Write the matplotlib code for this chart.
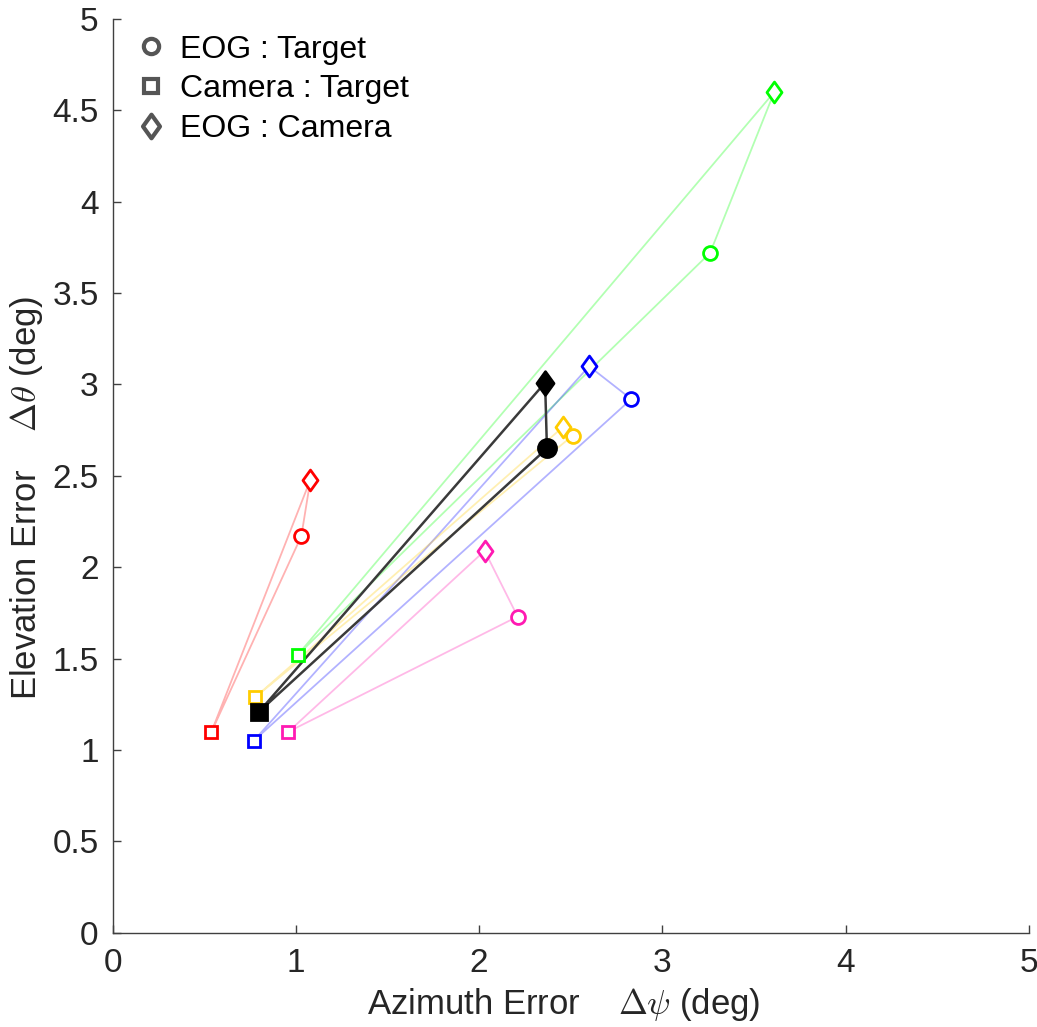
import matplotlib
matplotlib.use("Agg")
import matplotlib.pyplot as plt
from matplotlib.lines import Line2D
from matplotlib.path import Path

plt.rcParams["font.family"] = ["Liberation Sans", "DejaVu Sans"]
plt.rcParams["mathtext.fontset"] = "cm"

# per-subject colours, last entry is the group mean (filled black)
colors = ["#FF0000", "#00FF00", "#0000FF", "#FFCC00", "#FF1AB2", "#000000"]

# EOG : Target errors (azimuth, elevation)
eog_tgt_az = [1.03, 3.26, 2.83, 2.51, 2.21, 2.37]
eog_tgt_el = [2.17, 3.72, 2.92, 2.72, 1.73, 2.65]

# Camera : Target errors
cam_tgt_az = [0.54, 1.01, 0.77, 0.78, 0.96, 0.80]
cam_tgt_el = [1.10, 1.52, 1.05, 1.29, 1.10, 1.21]

# EOG : Camera errors
eog_cam_az = [1.08, 3.61, 2.60, 2.46, 2.03, 2.36]
eog_cam_el = [2.48, 4.60, 3.10, 2.77, 2.09, 3.01]

# wider diamond than matplotlib's "d"
diamond = Path([(0, 1), (0.72, 0), (0, -1), (-0.72, 0), (0, 1)],
               [Path.MOVETO, Path.LINETO, Path.LINETO, Path.LINETO, Path.CLOSEPOLY])

fig = plt.figure(figsize=(10.37, 10.27), dpi=100)
ax = fig.add_axes([0.1085, 0.0918, 0.8838, 0.8897])

axis_col = "#404040"
for i, c in enumerate(colors):
    mean = (i == len(colors) - 1)
    if mean:
        lc, la, lw = "#3a3a3a", 1.0, 1.8
    else:
        lc, la, lw = c, 0.3, 1.3
    # triangle joining the three comparisons
    xs = [cam_tgt_az[i], eog_tgt_az[i], eog_cam_az[i], cam_tgt_az[i]]
    ys = [cam_tgt_el[i], eog_tgt_el[i], eog_cam_el[i], cam_tgt_el[i]]
    ax.plot(xs, ys, color=lc, alpha=la, lw=lw, zorder=2 + mean)

for i, c in enumerate(colors):
    mean = (i == len(colors) - 1)
    face = c if mean else "white"
    z = 5 if mean else 4
    ax.plot(eog_tgt_az[i], eog_tgt_el[i], "o", ms=13 if mean else 10,
            mfc=face, mec=c, mew=2, zorder=z)
    ax.plot(cam_tgt_az[i], cam_tgt_el[i], "s", ms=11 if mean else 8.5,
            mfc=face, mec=c, mew=2, zorder=z)
    ax.plot(eog_cam_az[i], eog_cam_el[i], marker=diamond, ls="none",
            ms=17 if mean else 15, mfc=face, mec=c, mew=2, zorder=z)

ax.set_xlim(0, 5)
ax.set_ylim(0, 5)
ax.set_xticks([0, 1, 2, 3, 4, 5])
ax.set_yticks([0, 0.5, 1, 1.5, 2, 2.5, 3, 3.5, 4, 4.5, 5])
ax.set_yticklabels(["0", "0.5", "1", "1.5", "2", "2.5", "3", "3.5", "4", "4.5", "5"])

for side in ["top", "right"]:
    ax.spines[side].set_visible(False)
for side in ["left", "bottom"]:
    ax.spines[side].set_color(axis_col)
    ax.spines[side].set_linewidth(1.0)
ax.tick_params(direction="in", length=6, width=1.0, colors=axis_col,
               labelsize=24, labelcolor="#262626")
ax.tick_params(axis="x", pad=11)
ax.tick_params(axis="y", pad=10)

ax.set_xlabel(r"Azimuth Error    $\Delta\psi$ (deg)", fontsize=25,
              color="#262626")
ax.set_ylabel(r"Elevation Error    $\Delta\theta$ (deg)", fontsize=25,
              color="#262626")
ax.xaxis.set_label_coords(0.492, -0.058)
ax.yaxis.set_label_coords(-0.074, 0.476)

grey = "#555555"
handles = [
    Line2D([], [], ls="none", marker="o", ms=11, mfc="white", mec=grey, mew=3),
    Line2D([], [], ls="none", marker="s", ms=10, mfc="white", mec=grey, mew=3),
    Line2D([], [], ls="none", marker=diamond, ms=17, mfc="white", mec=grey, mew=3),
]
ax.legend(handles, ["EOG : Target", "Camera : Target", "EOG : Camera"],
          loc="upper left", bbox_to_anchor=(0.0125, 0.997), frameon=False,
          fontsize=23, handlelength=0.9, handletextpad=0.45,
          labelspacing=0.3, borderaxespad=0.0)

fig.savefig("out.png", dpi=100)
